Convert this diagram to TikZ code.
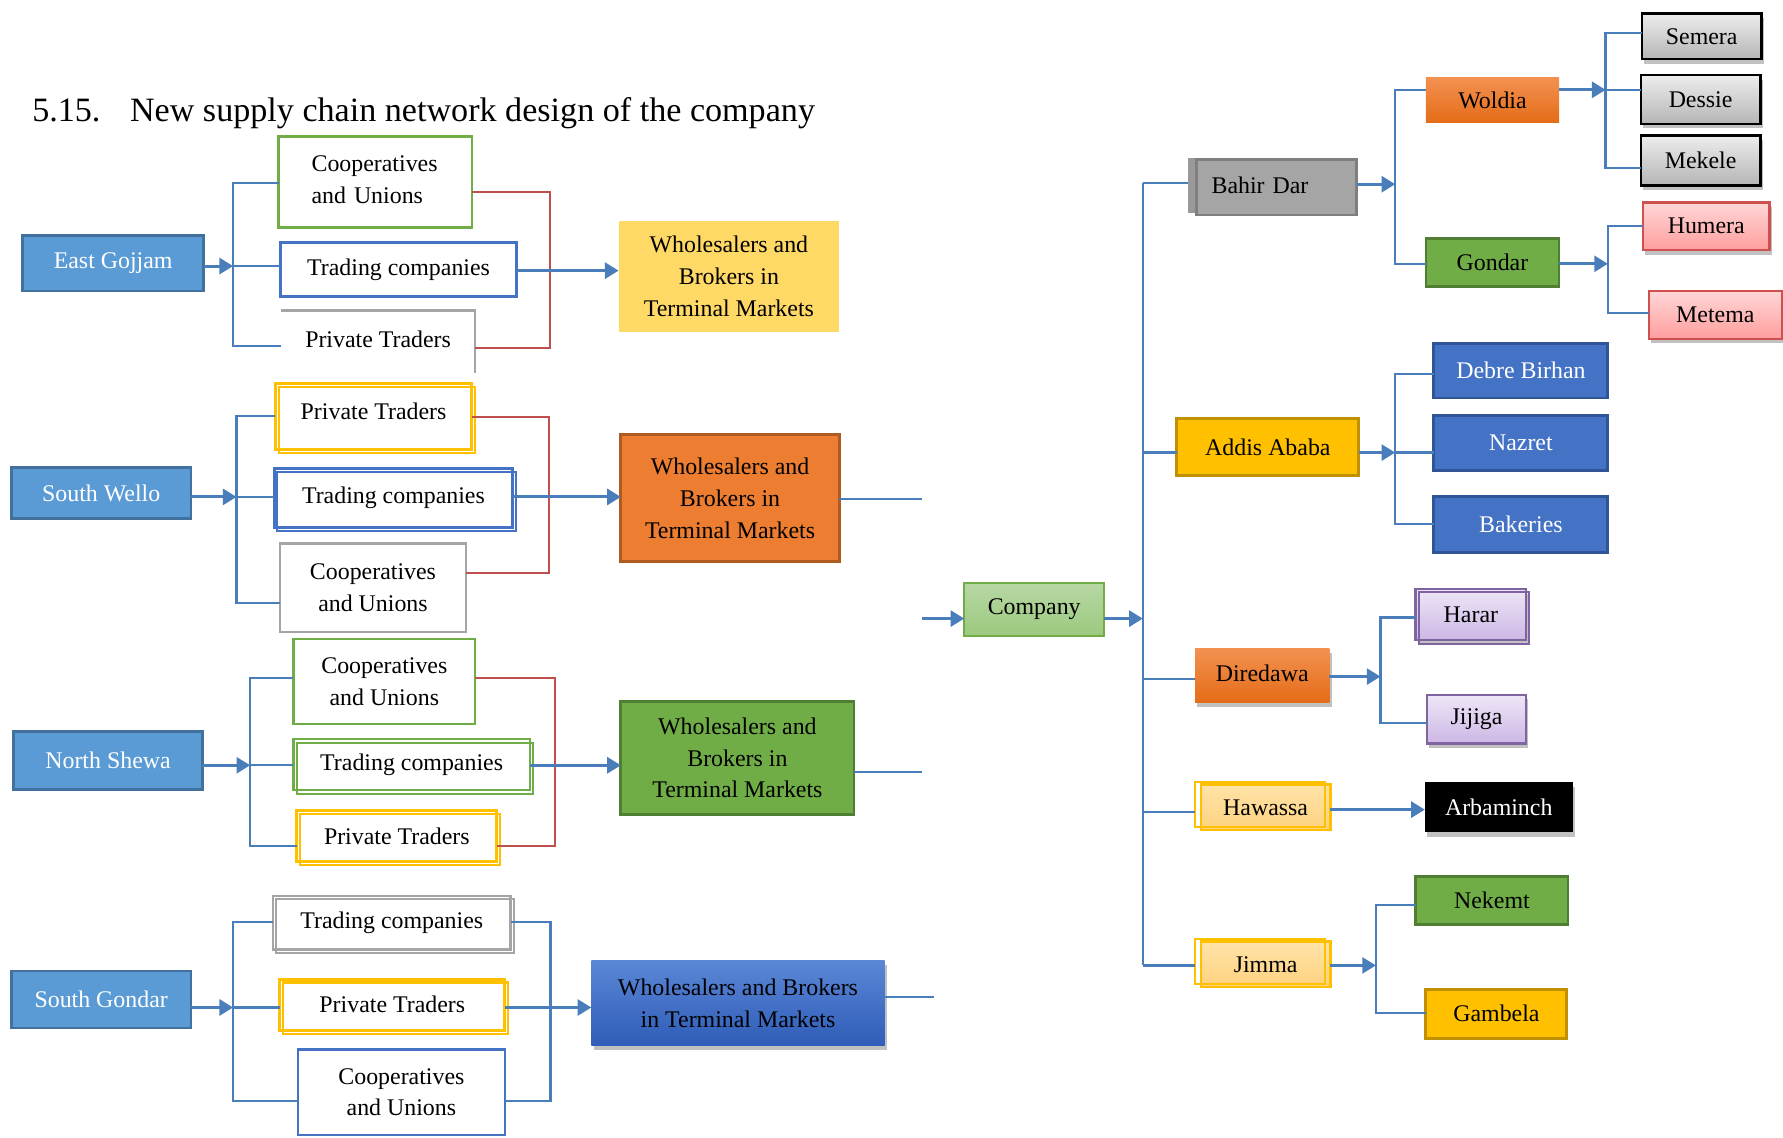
\documentclass[tikz,border=0pt]{standalone}
\usepackage{fontspec}
\setmainfont{Liberation Serif}
\usetikzlibrary{arrows.meta,shadows}
\definecolor{cn}{HTML}{4A7EBB}
\definecolor{rd}{HTML}{C0504D}
\definecolor{regfill}{HTML}{5B9BD5}
\definecolor{regline}{HTML}{41719C}
\definecolor{grn}{HTML}{70AD47}
\definecolor{grnd}{HTML}{507E32}
\definecolor{blu}{HTML}{4472C4}
\definecolor{blud}{HTML}{2F5597}
\definecolor{gry}{HTML}{A5A5A5}
\definecolor{gryd}{HTML}{7F7F7F}
\definecolor{ylw}{HTML}{FFC000}
\definecolor{ylwd}{HTML}{BF9000}
\definecolor{lylw}{HTML}{FFD966}
\definecolor{org}{HTML}{ED7D31}
\definecolor{orgd}{HTML}{AE5A21}
\definecolor{orgt}{HTML}{F39151}
\definecolor{orgb}{HTML}{E46C17}
\definecolor{wbt}{HTML}{5B87D6}
\definecolor{wbb}{HTML}{2F5DB8}
\definecolor{cot}{HTML}{B7D7A4}
\definecolor{cob}{HTML}{9CC97E}
\definecolor{sgt}{HTML}{EDEDED}
\definecolor{sgb}{HTML}{B5B5B5}
\definecolor{pkt}{HTML}{FFD6D6}
\definecolor{pkb}{HTML}{FF9E9E}
\definecolor{pkd}{HTML}{D05050}
\definecolor{lvt}{HTML}{EEE6F7}
\definecolor{lvb}{HTML}{CCB7E5}
\definecolor{lvd}{HTML}{8064A2}
\definecolor{hwt}{HTML}{FFE3A8}
\definecolor{hwb}{HTML}{FFD27F}
\newcommand\BX[7]{\node[#6, minimum width={(#4-#2)*0.5pt}, minimum height={(#5-#3)*0.5pt}] (#1) at ({(#2+#4)/2},{(#3+#5)/2}) {#7};}
\tikzset{
 base/.style={inner sep=0pt, outer sep=0pt, align=center},
 region/.style={base, fill=regfill, draw=regline, line width=1.2pt, text=white},
 grnline/.style={base, draw=grn, line width=1pt, fill=white},
 bluline/.style={base, draw=blu, line width=1.3pt, fill=white},
 gryline/.style={base, draw=gry, line width=1pt, fill=white},
 ylwline/.style={base, draw=ylw, line width=1.3pt, fill=white},
 twin/.style={postaction={draw=#1, line width=0.9pt, transform canvas={shift={(1.5pt,-1.5pt)}}}},
 twinl/.style={postaction={draw=#1, line width=0.9pt, transform canvas={shift={(-2.5pt,1.2pt)}}}},
 cl/.style={draw=cn, line width=1pt},
 rl/.style={draw=rd, line width=0.9pt},
 ar/.style={draw=cn, line width=1.3pt, -{Triangle[length=6pt,width=7pt]}},
 shad/.style={drop shadow={shadow xshift=1pt, shadow yshift=-2pt, opacity=0.35, fill=black!70}},
}
\begin{document}
\begin{tikzpicture}[x=0.5pt,y=-0.5pt,font=\fontsize{10.5}{14}\selectfont]
\useasboundingbox (0,0) rectangle (1568,1000);
\node[anchor=base west, inner sep=0pt, font=\fontsize{15}{18}\selectfont] (title) at (28,107) {5.15.\hspace{13pt}New supply chain network design of the company};

% ---------- Block 1: East Gojjam ----------
\BX{eg}{20}{207}{179}{256}{region}{East Gojjam}
\BX{c1}{245}{120}{415}{200}{grnline, align=left, text width=56pt}{\raisebox{2pt}{Cooperatives}\\\raisebox{2pt}{and Unions}}
\BX{t1}{247}{213}{454}{261}{bluline}{Trading companies}
\BX{p1}{247}{273}{418}{328}{base}{\raisebox{2pt}{Private Traders}}
\draw[draw=gry, line width=1pt] (p1.north west) -- (p1.north east) -- (p1.south east);
\BX{w1}{544}{194}{738}{292}{base, fill=lylw}{Wholesalers and\\Brokers in\\Terminal Markets}
\coordinate (a1) at (205,161); \coordinate (a2) at (205,234); \coordinate (a3) at (205,304);
\draw[cl] (c1.west |- a1) -- (a1) -- (a3) -- (p1.west |- a3);
\draw[cl] (a2) -- (t1.west |- a2);
\draw[ar] (eg.east |- a2) -- (a2);
\coordinate (r1) at (484,169); \coordinate (r2) at (484,306);
\draw[rl] (c1.east |- r1) -- (r1) -- (r2) -- (p1.east |- r2);
\coordinate (a4) at (454,238);
\draw[ar] (t1.east |- a4) -- (w1.west |- a4);

% ---------- Block 2: South Wello ----------
\BX{sw}{10}{411}{168}{456}{region}{South Wello}
\BX{p2}{242}{337}{415}{395}{ylwline, twin=ylw}{\raisebox{4pt}{Private Traders}}
\BX{t2}{241}{412}{451}{464}{bluline, twin=blu}{Trading companies}
\BX{c2}{246}{478}{410}{556}{gryline}{Cooperatives\\and Unions}
\BX{w2}{546}{382}{738}{494}{base, fill=org, draw=orgd, line width=1.3pt}{Wholesalers and\\Brokers in\\Terminal Markets}
\coordinate (b1) at (208,366); \coordinate (b2) at (208,437); \coordinate (b3) at (208,530);
\draw[cl] (p2.west |- b1) -- (b1) -- (b3) -- (c2.west |- b3);
\draw[cl] (b2) -- (t2.west |- b2);
\draw[ar] (sw.east |- b2) -- (b2);
\coordinate (s1) at (483,367); \coordinate (s2) at (483,504);
\draw[rl] (p2.east |- s1) -- (s1) -- (s2) -- (c2.east |- s2);
\draw[ar] (t2.east |- b2) -- (w2.west |- b2);
\coordinate (o2) at (811,439);
\draw[cl] (w2.east |- o2) -- (o2);

% ---------- Block 3: North Shewa ----------
\BX{ns}{12}{643}{178}{694}{region}{North Shewa}
\BX{c3}{258}{562}{418}{637}{grnline}{Cooperatives\\and Unions}
\BX{t3}{258}{650}{466}{695}{grnline, twin=grn}{Trading companies}
\BX{p3}{261}{713}{437}{758}{ylwline, twin=ylw}{Private Traders}
\BX{w3}{546}{617}{751}{716}{base, fill=grn, draw=grnd, line width=1.3pt}{Wholesalers and\\Brokers in\\Terminal Markets}
\coordinate (d1) at (220,596); \coordinate (d2) at (220,673); \coordinate (d3) at (220,744);
\draw[cl] (c3.west |- d1) -- (d1) -- (d3) -- (p3.west |- d3);
\draw[cl] (d2) -- (t3.west |- d2);
\draw[ar] (ns.east |- d2) -- (d2);
\coordinate (u1) at (488,596); \coordinate (u2) at (488,744);
\draw[rl] (c3.east |- u1) -- (u1) -- (u2) -- (p3.east |- u2);
\draw[ar] (t3.east |- d2) -- (w3.west |- d2);
\coordinate (o3) at (811,679);
\draw[cl] (w3.east |- o3) -- (o3);

% ---------- Block 4: South Gondar ----------
\BX{sg}{10}{854}{168}{904}{region}{South Gondar}
\BX{t4}{240}{788}{449}{835}{gryline, twin=gry}{Trading companies}
\BX{p4}{246}{861}{444}{906}{ylwline, twin=ylw}{Private Traders}
\BX{c4}{262}{923}{444}{998}{bluline, line width=1.1pt}{Cooperatives\\and Unions}
\BX{w4}{520}{845}{778}{919}{base, top color=wbt, bottom color=wbb, shad}{Wholesalers and Brokers\\in Terminal Markets}
\coordinate (e1) at (205,811); \coordinate (e2) at (205,886); \coordinate (e3) at (205,968);
\draw[cl] (t4.west |- e1) -- (e1) -- (e3) -- (c4.west |- e3);
\draw[cl] (e2) -- (p4.west |- e2);
\draw[ar] (sg.east |- e2) -- (e2);
\coordinate (v1) at (484,811); \coordinate (v2) at (484,968);
\draw[cl] (t4.east |- v1) -- (v1) -- (v2) -- (c4.east |- v2);
\draw[ar] (p4.east |- e2) -- (w4.west |- e2);
\coordinate (o4) at (821,877);
\draw[cl] (w4.east |- o4) -- (o4);

% ---------- Company ----------
\BX{co}{848}{513}{971}{559}{base, top color=cot, bottom color=cob, draw=grn, line width=0.9pt}{Company}
\coordinate (ci) at (811,544); \coordinate (k0) at (1005,544);
\draw[ar] (ci) -- (co.west |- ci);
\draw[ar] (co.east |- k0) -- (k0);

% ---------- Right side ----------
\fill[gray!80] (1045,139) rectangle (1186,187);
\BX{bd}{1052}{140}{1193}{189}{base, fill=gry, draw=gryd, line width=1.2pt, align=left, inner xsep=6.5pt, text width=57pt}{\raisebox{2pt}{Bahir Dar}}
\BX{wo}{1254}{68}{1371}{108}{base, top color=orgt, bottom color=orgb}{Woldia}
\BX{gd}{1254}{210}{1371}{252}{base, fill=grn, draw=grnd, line width=1.2pt}{Gondar}
\BX{se}{1444}{12}{1549}{52}{base, top color=sgt, bottom color=sgb, draw=black, line width=1.1pt, shad}{Semera}
\BX{de}{1443}{66}{1548}{109}{base, top color=sgt, bottom color=sgb, draw=black, line width=1.1pt, shad}{Dessie}
\BX{me}{1443}{119}{1548}{163}{base, top color=sgt, bottom color=sgb, draw=black, line width=1.1pt, shad}{Mekele}
\BX{hu}{1445}{178}{1556}{220}{base, top color=pkt, bottom color=pkb, draw=pkd, line width=1.1pt, shad}{Humera}
\BX{mt}{1450}{256}{1567}{298}{base, top color=pkt, bottom color=pkb, draw=pkd, line width=1.1pt, shad}{Metema}
\BX{ad}{1035}{368}{1195}{418}{base, fill=ylw, draw=ylwd, line width=1.3pt}{Addis Ababa}
\BX{db}{1261}{302}{1414}{350}{base, fill=blu, draw=blud, line width=1.3pt, text=white}{Debre Birhan}
\BX{nz}{1261}{365}{1414}{414}{base, fill=blu, draw=blud, line width=1.3pt, text=white}{Nazret}
\BX{bk}{1261}{437}{1414}{486}{base, fill=blu, draw=blud, line width=1.3pt, text=white}{Bakeries}
\BX{dd}{1051}{570}{1169}{618}{base, top color=orgt, bottom color=orgb, shad}{\raisebox{2pt}{Diredawa}}
\BX{hr}{1245}{518}{1342}{563}{base, top color=lvt, bottom color=lvb, draw=lvd, line width=1.1pt, shad, twin=lvd}{Harar}
\BX{jj}{1255}{611}{1342}{654}{base, top color=lvt, bottom color=lvb, draw=lvd, line width=1.1pt, shad}{Jijiga}
\BX{hw}{1056}{690}{1170}{730}{base, top color=hwt, bottom color=hwb, draw=ylw, line width=1pt, twinl=ylw}{Hawassa}
\BX{jm}{1056}{828}{1170}{868}{base, top color=hwt, bottom color=hwb, draw=ylw, line width=1pt, twinl=ylw}{Jimma}
\BX{ab}{1253}{688}{1383}{732}{base, fill=black, text=white, shad}{Arbaminch}
\BX{nk}{1245}{771}{1379}{813}{base, fill=grn, draw=grnd, line width=1.2pt}{Nekemt}
\BX{gb}{1254}{870}{1378}{913}{base, fill=ylw, draw=ylwd, line width=1.3pt}{Gambela}

% main right bus
\coordinate (k1) at (1005,161); \coordinate (k2) at (1005,398); \coordinate (k3) at (1005,597);
\coordinate (k5) at (1005,714); \coordinate (k6) at (1005,849);
\draw[cl] (k1) -- (k6);
\draw[cl] (k1) -- ([xshift=-3.5pt]bd.west |- k1);
\draw[cl] (k2) -- (ad.west |- k2);
\draw[cl] (k3) -- (dd.west |- k3);
\draw[cl] (k5) -- ([xshift=-2.5pt]hw.west |- k5);
\draw[cl] (k6) -- ([xshift=-2.5pt]jm.west |- k6);

% Bahir Dar branch
\coordinate (g1) at (1227,79); \coordinate (g2) at (1227,162); \coordinate (g3) at (1227,232);
\draw[ar] (bd.east |- g2) -- (g2);
\draw[cl] (wo.west |- g1) -- (g1) -- (g3) -- (gd.west |- g3);
\coordinate (h1) at (1412,29); \coordinate (h2) at (1412,79); \coordinate (h3) at (1412,148);
\draw[ar] (wo.east |- h2) -- (h2);
\draw[cl] (se.west |- h1) -- (h1) -- (h3) -- (me.west |- h3);
\draw[cl] (h2) -- (de.west |- h2);
\coordinate (i1) at (1414,199); \coordinate (i2) at (1414,232); \coordinate (i3) at (1414,275);
\draw[ar] (gd.east |- i2) -- (i2);
\draw[cl] (hu.west |- i1) -- (i1) -- (i3) -- (mt.west |- i3);

% Addis Ababa branch
\coordinate (j1) at (1227,329); \coordinate (j2) at (1227,398); \coordinate (j3) at (1227,461);
\draw[ar] (ad.east |- j2) -- (j2);
\draw[cl] (db.west |- j1) -- (j1) -- (j3) -- (bk.west |- j3);
\draw[cl] (j2) -- (nz.west |- j2);

% Diredawa branch
\coordinate (m1) at (1214,543); \coordinate (m2) at (1214,595); \coordinate (m3) at (1214,636);
\draw[ar] (dd.east |- m2) -- (m2);
\draw[cl] (hr.west |- m1) -- (m1) -- (m3) -- (jj.west |- m3);

% Hawassa branch
\coordinate (n1) at (1170,712);
\draw[ar] (hw.east |- n1) -- (ab.west |- n1);

% Jimma branch
\coordinate (q1) at (1210,796); \coordinate (q2) at (1210,849); \coordinate (q3) at (1210,891);
\draw[ar] (jm.east |- q2) -- (q2);
\draw[cl] (nk.west |- q1) -- (q1) -- (q3) -- (gb.west |- q3);
\end{tikzpicture}
\end{document}
